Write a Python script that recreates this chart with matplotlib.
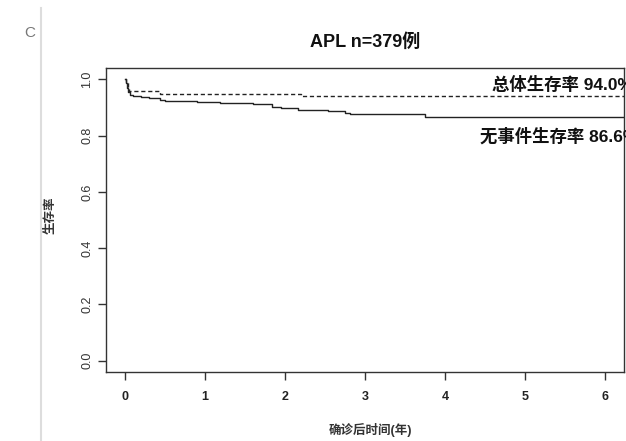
import matplotlib.pyplot as plt
from matplotlib.lines import Line2D

plt.rcParams['font.family'] = ['Liberation Sans', 'Noto Sans CJK SC', 'DejaVu Sans']

# Total survival (dashed) - step points
os_time = [0, 0.01, 0.03, 0.05, 0.10, 0.44, 2.20, 6.25]
os_surv = [1.0, 0.985, 0.970, 0.960, 0.957, 0.946, 0.940, 0.940]

# Event-free survival (solid)
efs_time = [0, 0.01, 0.02, 0.04, 0.06, 0.10, 0.20, 0.30, 0.44, 0.50, 0.70, 0.90,
            1.19, 1.60, 1.84, 1.95, 2.16, 2.54, 2.75, 2.81, 3.75, 6.25]
efs_surv = [1.0, 0.985, 0.970, 0.955, 0.945, 0.940, 0.937, 0.933, 0.926, 0.924, 0.922, 0.920,
            0.914, 0.911, 0.903, 0.898, 0.892, 0.887, 0.881, 0.877, 0.866, 0.866]

x_ticks = [0, 1, 2, 3, 4, 5, 6]
y_ticks = [0.0, 0.2, 0.4, 0.6, 0.8, 1.0]

fig = plt.figure(figsize=(6.26, 4.41), dpi=100)
ax = fig.add_axes([106 / 626, 1 - 372 / 441, 518 / 626, 304 / 441])

ax.step(os_time, os_surv, where='post', color='#222222', lw=1, dashes=(3, 2))
ax.step(efs_time, efs_surv, where='post', color='#222222', lw=1)

ax.set_xlim(-0.24, 6.24)
ax.set_ylim(-0.04, 1.04)
ax.set_xticks(x_ticks)
ax.set_xticklabels([str(v) for v in x_ticks], fontweight='bold', fontsize=9, color='#222222')
ax.set_yticks(y_ticks)
ax.set_yticklabels(['%.1f' % v for v in y_ticks], rotation=90, va='center',
                   fontsize=9, color='#333333')
ax.tick_params(axis='both', direction='out', length=6, width=1, color='#333333')
ax.tick_params(axis='x', pad=8)
ax.tick_params(axis='y', pad=3)
for s in ax.spines.values():
    s.set_color('#333333')
    s.set_linewidth(1)

ax.text(4.59, 0.98, '总体生存率 94.0%', fontsize=12.5, fontweight='bold',
        ha='left', va='center', color='#111111', clip_on=False)
ax.text(4.44, 0.80, '无事件生存率 86.6%', fontsize=12.5, fontweight='bold',
        ha='left', va='center', color='#111111', clip_on=False)

fig.text(365 / 626, 1 - 42 / 441, 'APL n=379例', fontsize=13, fontweight='bold',
         ha='center', va='center', color='#111111')
fig.text(370 / 626, 1 - 430 / 441, '确诊后时间(年)', fontsize=9, fontweight='bold',
         ha='center', va='center', color='#333333')
fig.text(51 / 626, 1 - 215 / 441, '生存率', fontsize=9, fontweight='bold', rotation=90,
         ha='center', va='center', color='#333333')

# panel letter and divider line
fig.text(30 / 626, 1 - 33 / 441, 'C', fontsize=11, color='#777777', ha='center', va='center')
fig.add_artist(Line2D([41 / 626, 41 / 626], [0, 1 - 8 / 441], color='#dddddd', lw=1.5,
                      transform=fig.transFigure))

fig.savefig('out.png', dpi=100)
